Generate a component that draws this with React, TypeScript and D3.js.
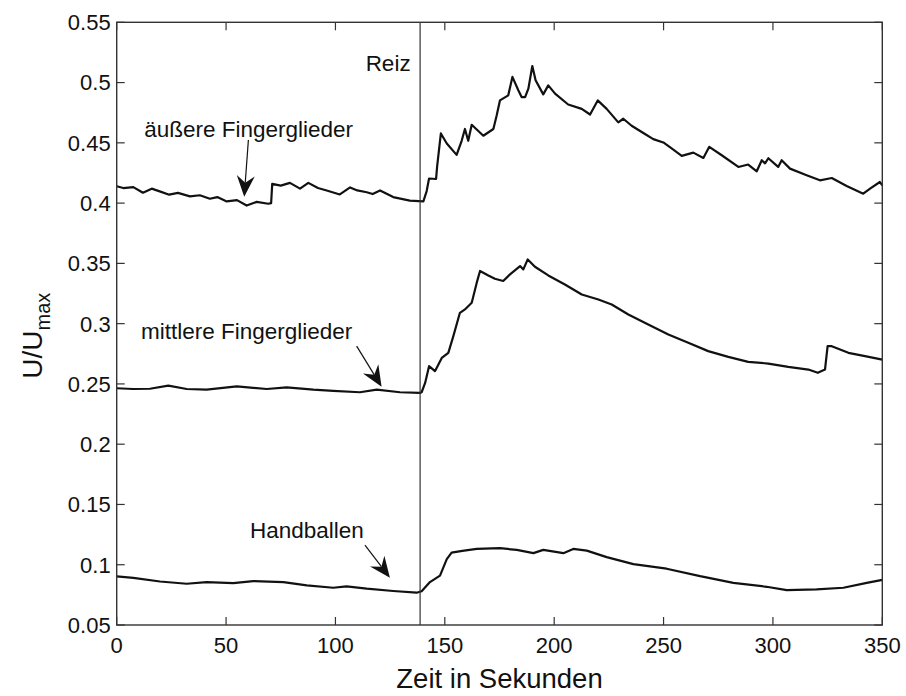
import React from "react";
import * as d3 from "d3";

// ---- data (time in s, U/Umax) ----
const outerFingers: [number, number][] = [
  [0, 0.414], [3, 0.4125], [7.6, 0.4133], [12, 0.4086], [16, 0.412], [20, 0.4095], [24, 0.407], [28, 0.4085], [33.5, 0.4056],
  [38, 0.4065], [42.6, 0.4036], [46, 0.405], [50.3, 0.4014], [55, 0.4025], [59.4, 0.398], [64, 0.401], [69.3, 0.3995],
  [70.6, 0.4], [71.1, 0.416], [75, 0.4145], [79.2, 0.4168], [83.8, 0.412], [87.6, 0.4168], [92, 0.4125], [96, 0.4105],
  [102, 0.4072], [106.7, 0.413], [110, 0.4105], [114.3, 0.409], [117, 0.4075], [120.4, 0.4105], [126.4, 0.405],
  [134, 0.402], [140.2, 0.4014], [141.7, 0.41], [142.8, 0.4204], [146, 0.42], [146.5, 0.4307], [148.2, 0.4578],
  [150.9, 0.4494], [155.4, 0.44], [157.7, 0.4517], [159.2, 0.4615], [160.7, 0.4517], [162.3, 0.465], [167.6, 0.4559],
  [172.2, 0.4615], [173.7, 0.4726], [175.2, 0.4852], [179, 0.4894], [180.9, 0.5047], [183.6, 0.4936], [185.1, 0.488],
  [186.7, 0.488], [188.2, 0.495], [190, 0.5137], [191.5, 0.502], [195, 0.4902], [197.3, 0.4977], [200.4, 0.4908],
  [206.4, 0.4818], [212.6, 0.4782], [216.4, 0.4735], [219.9, 0.4852], [224, 0.4782], [229.3, 0.467], [231.6, 0.47],
  [235.4, 0.4642], [241.5, 0.4573], [245.3, 0.4531], [249.9, 0.4503], [254, 0.445], [258.3, 0.4392], [263.6, 0.4419],
  [268.2, 0.4375], [270.9, 0.4467], [276.6, 0.4397], [284.2, 0.43], [288.7, 0.432], [292.6, 0.4264], [294.9, 0.4356],
  [296.4, 0.433], [297.9, 0.4372], [302.4, 0.43], [304, 0.4356], [307.8, 0.4286], [315.4, 0.4231], [321.5, 0.4189],
  [326.9, 0.4208], [333.7, 0.4142], [341.3, 0.4078], [344.4, 0.412], [348.9, 0.4175], [350, 0.4147],
];

const middleFingers: [number, number][] = [
  [0, 0.2464], [7.5, 0.2458], [15.2, 0.246], [23.6, 0.2486], [32, 0.2458], [41.1, 0.2452], [54.9, 0.248], [68.6, 0.2458],
  [77.7, 0.2472], [89.9, 0.2452], [99, 0.2442], [111.2, 0.2431], [118.9, 0.2452], [129.5, 0.2431], [138.7, 0.2425],
  [139.4, 0.2431], [141, 0.2508], [142.8, 0.2647], [145.5, 0.2606], [148.6, 0.2716], [151.6, 0.2758], [153.9, 0.2896],
  [156.9, 0.309], [159.2, 0.3118], [162.3, 0.3173], [164.6, 0.334], [166.1, 0.3437], [169.9, 0.34], [172.9, 0.3373],
  [176.7, 0.3354], [179.8, 0.3409], [184.4, 0.3478], [185.9, 0.345], [187.9, 0.3533], [191.2, 0.3472], [197.3, 0.34],
  [204.9, 0.3325], [212.6, 0.3242], [220.2, 0.32], [226.3, 0.3159], [233.9, 0.3076], [243, 0.2993], [252.2, 0.291],
  [261.3, 0.2841], [270.4, 0.2772], [279.6, 0.2724], [288.7, 0.2683], [297.9, 0.2669], [307, 0.2641], [316.2, 0.2619],
  [320.5, 0.2592], [323.8, 0.2619], [325, 0.2813], [326.9, 0.2813], [334.5, 0.2758], [342.1, 0.273], [350, 0.2702],
];

const palm: [number, number][] = [
  [0, 0.0904], [7.6, 0.0891], [19.8, 0.0861], [32, 0.0842], [41.1, 0.0856], [53.3, 0.0847], [62.4, 0.0864],
  [76.2, 0.0856], [86.9, 0.0829], [99, 0.0809], [105.1, 0.082], [114.3, 0.0801], [126.4, 0.0782], [137.1, 0.0768],
  [139.4, 0.078], [143.2, 0.0856], [147.8, 0.091], [150.9, 0.1046], [153.1, 0.11], [158, 0.1115], [164.6, 0.1131],
  [175.2, 0.1137], [182.9, 0.1123], [190.5, 0.1096], [195, 0.1123], [204.2, 0.1096], [208.7, 0.1131], [214.9, 0.1117],
  [224, 0.1063], [236.2, 0.1005], [251.4, 0.0967], [266.7, 0.0905], [281.9, 0.085], [297.1, 0.0817], [306.3, 0.079],
  [320, 0.0795], [332.2, 0.0809], [342.9, 0.085], [350, 0.0875],
];

const xTicks = [0, 50, 100, 150, 200, 250, 300, 350];
const yTicks = [0.05, 0.1, 0.15, 0.2, 0.25, 0.3, 0.35, 0.4, 0.45, 0.5, 0.55];
const stimulusTime = 138.7;

const labelTexts = ["äußere Fingerglieder", "mittlere Fingerglieder", "Handballen", "Reiz"];
const labelPositions: [number, number][] = [[12.6, 0.4548], [11.1, 0.2869], [60.9, 0.1218], [113.8, 0.5096]];
const arrowStarts: [number, number][] = [[60.2, 0.4523], [109.7, 0.2814], [113.5, 0.1163]];
const arrowTips: [number, number][] = [[58.3, 0.4053], [121.1, 0.2476], [124.9, 0.0891]];

const W = 906;
const H = 696;
const margin = { left: 116.7, right: 23.7, top: 22.3, bottom: 71 };
const FONT = "'Liberation Sans', Arial, Helvetica, sans-serif";

export default function App() {
  const x = d3.scaleLinear().domain([0, 350]).range([margin.left, W - margin.right]);
  const y = d3.scaleLinear().domain([0.05, 0.55]).range([H - margin.bottom, margin.top]);
  const line = d3
    .line<[number, number]>()
    .x((d) => x(d[0]))
    .y((d) => y(d[1]))
    .curve(d3.curveLinear);

  const x0 = x(0), x1 = x(350), y0 = y(0.05), y1 = y(0.55);
  const tickLen = 8;
  const axisColor = "#333";

  const arrows = arrowStarts.map((s, i) => {
    const t = arrowTips[i];
    const sx = x(s[0]), sy = y(s[1]);
    const tx = x(t[0]), ty = y(t[1]);
    const dx = tx - sx, dy = ty - sy;
    const len = Math.hypot(dx, dy);
    const ux = dx / len, uy = dy / len;
    const nx = -uy, ny = ux;
    const L = 21, Wd = 9, notch = 7;
    const bx = tx - ux * L, by = ty - uy * L;
    const mx = tx - ux * (L - notch), my = ty - uy * (L - notch);
    const head = `M${tx},${ty}L${bx + nx * Wd},${by + ny * Wd}L${mx},${my}L${bx - nx * Wd},${by - ny * Wd}Z`;
    return { sx, sy, mx, my, head };
  });

  return (
    <svg
      width={W}
      height={H}
      style={{ position: "absolute", left: 0, top: 0, background: "#fff" }}
      fontFamily={FONT}
    >
      <rect x={0} y={0} width={W} height={H} fill="#fff" />
      {/* series */}
      {[outerFingers, middleFingers, palm].map((s, i) => (
        <path key={i} d={line(s) || ""} fill="none" stroke="#111" strokeWidth={2.2} strokeLinejoin="round" />
      ))}
      {/* stimulus line */}
      <line x1={x(stimulusTime)} x2={x(stimulusTime)} y1={y1} y2={y0} stroke="#333" strokeWidth={1.2} />
      {/* frame */}
      <rect x={x0} y={y1} width={x1 - x0} height={y0 - y1} fill="none" stroke={axisColor} strokeWidth={1.4} />
      {/* x ticks */}
      {xTicks.map((t) => (
        <g key={"x" + t}>
          <line x1={x(t)} x2={x(t)} y1={y0} y2={y0 - tickLen} stroke={axisColor} strokeWidth={1.2} />
          <line x1={x(t)} x2={x(t)} y1={y1} y2={y1 + tickLen} stroke={axisColor} strokeWidth={1.2} />
          <text x={x(t)} y={y0 + 28} textAnchor="middle" fontSize={22} fill="#111">
            {t}
          </text>
        </g>
      ))}
      {/* y ticks */}
      {yTicks.map((v) => (
        <g key={"y" + v}>
          <line x1={x0} x2={x0 + tickLen} y1={y(v)} y2={y(v)} stroke={axisColor} strokeWidth={1.2} />
          <line x1={x1} x2={x1 - tickLen} y1={y(v)} y2={y(v)} stroke={axisColor} strokeWidth={1.2} />
          <text x={x0 - 6} y={y(v)} dy="0.36em" textAnchor="end" fontSize={22} fill="#111">
            {String(v)}
          </text>
        </g>
      ))}
      {/* axis labels */}
      <text x={(x0 + x1) / 2} y={H - 8} textAnchor="middle" fontSize={27.5} fill="#111">
        Zeit in Sekunden
      </text>
      <text
        transform={`translate(42,${(y0 + y1) / 2 + 12}) rotate(-90)`}
        textAnchor="middle"
        fontSize={28}
        fill="#111"
      >
        U/U
        <tspan fontSize={20} dy={8}>max</tspan>
      </text>
      {/* annotations */}
      {labelTexts.map((txt, i) => (
        <text key={txt} x={x(labelPositions[i][0])} y={y(labelPositions[i][1])} fontSize={22.5} fill="#111">
          {txt}
        </text>
      ))}
      {arrows.map((a, i) => (
        <g key={"a" + i}>
          <line x1={a.sx} y1={a.sy} x2={a.mx} y2={a.my} stroke="#111" strokeWidth={1.2} />
          <path d={a.head} fill="#111" />
        </g>
      ))}
    </svg>
  );
}
